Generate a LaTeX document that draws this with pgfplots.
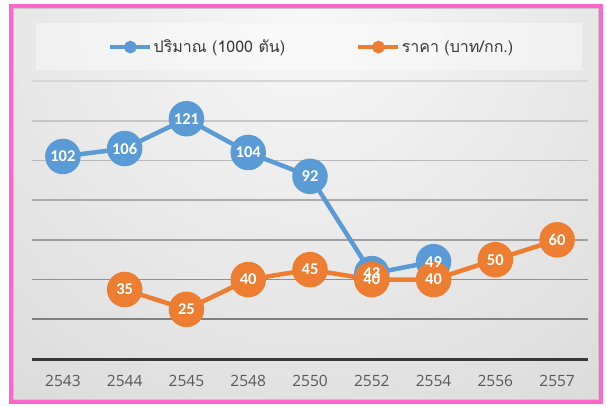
\documentclass[border=0pt]{standalone}
\usepackage{pgfplots}
\pgfplotsset{compat=1.18}
\usepackage{fontspec}
\setmainfont{Open Sans}
\newfontfamily\thaifont[Script=Thai]{Loma}
\newfontfamily\lblfont{Carlito}
\definecolor{sblue}{HTML}{5B9BD5}
\definecolor{sorange}{HTML}{ED7D31}
\definecolor{fpink}{HTML}{FF66CC}
\definecolor{tickgray}{HTML}{595959}
\begin{document}
\begin{tikzpicture}[x=1pt,y=1pt]
\useasboundingbox (0,0) rectangle (607,405);
\begin{scope}
\clip (11,3) rectangle (600.5,399);
\shade[inner color=white!97!black, outer color=black!23] (306,395) circle (900);
\end{scope}
\draw[black!22, line width=1] (13.5,5.5) rectangle (598,396.5);
\draw[fpink, line width=4] (11,3) rectangle (600.5,399);
\fill[white, fill opacity=0.4] (36,335) rectangle (582,382);
\begin{axis}[
  at={(32pt,46pt)}, anchor=south west,
  scale only axis, width=556pt, height=278pt,
  xmin=-0.5, xmax=8.5, ymin=0, ymax=140,
  clip=false,
  axis line style={draw=none},
  tick style={draw=none},
  xtick={0,1,2,3,4,5,6,7,8},
  xticklabels={2543,2544,2545,2548,2550,2552,2554,2556,2557},
  ytick=\empty,
  xticklabel style={font=\fontsize{15.5}{18}\selectfont, text=tickgray, yshift=-13pt},
  legend style={at={(0.503,1.122)}, anchor=center, draw=none, fill=none,
    legend columns=2, font=\thaifont\fontsize{16}{18}\selectfont, text=black!78,
    /tikz/every even column/.append style={column sep=70pt},
    /tikz/every odd column/.append style={column sep=0pt},
    nodes={inner sep=1.5pt}},
  legend image code/.code={\draw[#1, line width=3.6pt, mark=none] (0pt,0pt) -- (40pt,0pt); \fill[#1] (20pt,0pt) circle (4pt);},
]
% grid lines
\addplot[black!16, line width=1.6, forget plot] coordinates {(-0.5,140) (8.5,140)};
\addplot[black!22, line width=1.6, forget plot] coordinates {(-0.5,120) (8.5,120)};
\addplot[black!27, line width=1.6, forget plot] coordinates {(-0.5,100) (8.5,100)};
\addplot[black!33, line width=1.6, forget plot] coordinates {(-0.5,80) (8.5,80)};
\addplot[black!38, line width=1.6, forget plot] coordinates {(-0.5,60) (8.5,60)};
\addplot[black!44, line width=1.6, forget plot] coordinates {(-0.5,40) (8.5,40)};
\addplot[black!50, line width=1.6, forget plot] coordinates {(-0.5,20) (8.5,20)};
\addplot[black!78, line width=3, forget plot] coordinates {(-0.5,0) (8.5,0)};
% series
\addplot[sblue, line width=4.5pt, mark=*, mark size=15.5pt, mark options={solid}] coordinates {
(0,102) (1,106) (2,121) (3,104) (4,92) (5,43) (6,49)};
\addlegendentry{ปริมาณ (1000 ตัน)}
\addplot[sorange, line width=4.5pt, mark=*, mark size=15.5pt, mark options={solid}] coordinates {
(1,35) (2,25) (3,40) (4,45) (5,40) (6,40) (7,50) (8,60)};
\addlegendentry{ราคา (บาท/กก.)}
% data labels
\addplot[draw=none, mark=none, forget plot, point meta=explicit symbolic,
  nodes near coords, nodes near coords align=center,
  nodes near coords style={font=\lblfont\bfseries\fontsize{16.5}{18}\selectfont, text=white, anchor=center, inner sep=0pt}]
coordinates {(0,102) [102] (1,106) [106] (2,121) [121] (3,104) [104] (4,92) [92] (5,43) [43] (6,49) [49]};
\addplot[draw=none, mark=none, forget plot, point meta=explicit symbolic,
  nodes near coords, nodes near coords align=center,
  nodes near coords style={font=\lblfont\bfseries\fontsize{16.5}{18}\selectfont, text=white, anchor=center, inner sep=0pt}]
coordinates {(1,35) [35] (2,25) [25] (3,40) [40] (4,45) [45] (5,40) [40] (6,40) [40] (7,50) [50] (8,60) [60]};
\end{axis}
\end{tikzpicture}
\end{document}
